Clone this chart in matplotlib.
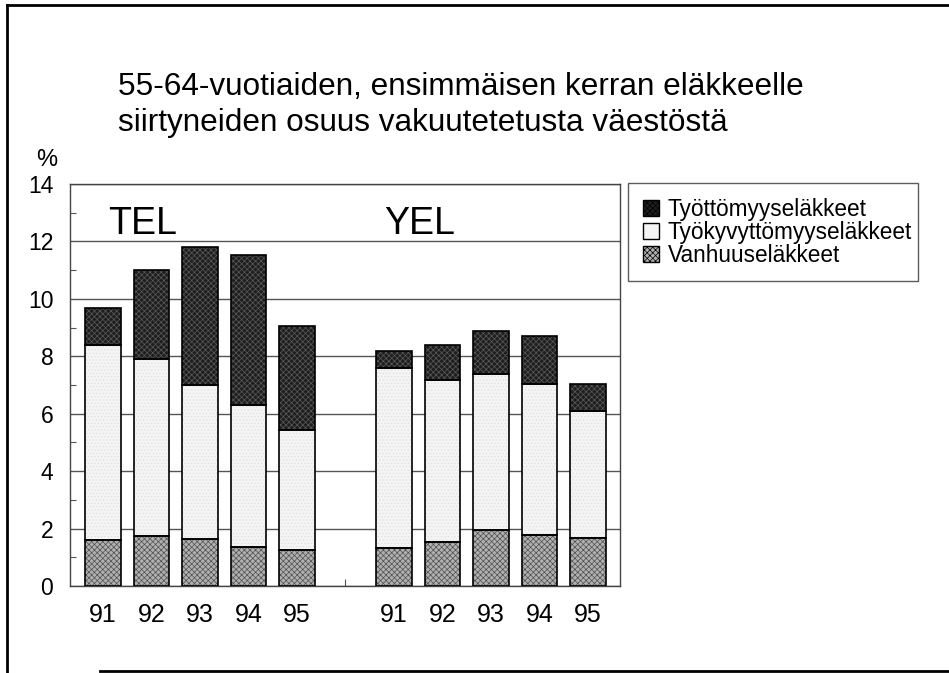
import matplotlib
matplotlib.use("Agg")
import matplotlib.pyplot as plt
from matplotlib.patches import Patch
from matplotlib.lines import Line2D

plt.rcParams['font.family'] = ['Liberation Sans', 'DejaVu Sans']
plt.rcParams['hatch.linewidth'] = 0.5

years = ["91", "92", "93", "94", "95"]
groups = ["TEL", "YEL"]
# values per bar: TEL 91-95 then YEL 91-95
vanhuus = [1.61, 1.73, 1.63, 1.35, 1.26, 1.34, 1.53, 1.94, 1.77, 1.66]
tyokyvyttomyys_top = [8.39, 7.92, 7.01, 6.31, 5.45, 7.59, 7.19, 7.40, 7.02, 6.11]
total = [9.69, 11.01, 11.80, 11.52, 9.05, 8.19, 8.40, 8.89, 8.71, 7.04]
tyokyvyttomyys = [t - v for t, v in zip(tyokyvyttomyys_top, vanhuus)]
tyottomyys = [tot - t for tot, t in zip(total, tyokyvyttomyys_top)]
labels = ["Työttömyyseläkkeet", "Työkyvyttömyyseläkkeet", "Vanhuuseläkkeet"]

positions = [0, 1, 2, 3, 4, 6, 7, 8, 9, 10]
width = 0.74

fig = plt.figure(figsize=(9.49, 6.73), dpi=100)
ax = fig.add_axes([70/949, 1-586/673, 550/949, 402/673])

styles = {
    "tyott": dict(face='#1e1e1e', hatch='xxxxxx', hc='#5a5a5a'),
    "tyokyv": dict(face='#f4f4f4', hatch='.....', hc='#e0e0e0'),
    "vanh": dict(face='#b0b0b0', hatch='xxxxxx', hc='#505050'),
}

def draw(vals, bottom, st):
    ax.bar(positions, vals, width, bottom=bottom, color=st['face'], hatch=st['hatch'],
           edgecolor=st['hc'], linewidth=0, zorder=3)
    ax.bar(positions, vals, width, bottom=bottom, facecolor='none',
           edgecolor='black', linewidth=1.2, zorder=4)

draw(vanhuus, 0, styles['vanh'])
draw(tyokyvyttomyys, vanhuus, styles['tyokyv'])
draw(tyottomyys, tyokyvyttomyys_top, styles['tyott'])

ax.set_xlim(-0.68, 10.66)
ax.set_ylim(0, 14)
ax.set_yticks(range(0, 15, 2))
ax.set_yticks(range(1, 14, 2), minor=True)
ax.yaxis.grid(True, which='major', color='#555555', linewidth=1.0, zorder=1)
ax.set_axisbelow(True)
ax.set_xticks(range(11))
ax.set_xticklabels(years + [""] + years)
ax.tick_params(axis='y', which='major', length=0, pad=12, labelsize=16.5)
ax.tick_params(axis='y', which='minor', direction='in', length=4, width=0.8, color='#555555')
ax.tick_params(axis='x', direction='in', length=5, width=0.8, color='#555555', pad=12, labelsize=18)
for s in ax.spines.values():
    s.set_color('#444444')
    s.set_linewidth(1.0)

ax.text(0.1, 12.6, groups[0], fontsize=27, va='center', ha='left')
ax.text(5.8, 12.6, groups[1], fontsize=27, va='center', ha='left')

fig.text(118/949, 1-105/673, "55-64-vuotiaiden, ensimmäisen kerran eläkkeelle\nsiirtyneiden osuus vakuutetetusta väestöstä",
         fontsize=22.7, va='center', ha='left', linespacing=1.25)
fig.text(36/949, 1-160/673, "%", fontsize=17, va='center', ha='left')

handles = [Patch(facecolor=styles['tyott']['face'], hatch=styles['tyott']['hatch'], edgecolor='black'),
           Patch(facecolor=styles['tyokyv']['face'], edgecolor='black'),
           Patch(facecolor=styles['vanh']['face'], hatch=styles['vanh']['hatch'], edgecolor='black')]
leg = fig.legend(handles, labels, loc='upper left',
                 bbox_to_anchor=(628/949, 1-279/673, 290/949, 96/673), mode='expand',
                 fontsize=16.3, frameon=True, fancybox=False, edgecolor='#333333',
                 handlelength=0.7, handleheight=0.7, handletextpad=0.4,
                 labelspacing=0.0, borderpad=0.65, borderaxespad=0)
leg.get_frame().set_linewidth(1.0)

# outer frame
fig.add_artist(Line2D([7/949, 7/949], [0, 1-5/673], transform=fig.transFigure, color='black', lw=2))
fig.add_artist(Line2D([7/949, 1], [1-5/673, 1-5/673], transform=fig.transFigure, color='black', lw=2))
fig.add_artist(Line2D([100/949, 1], [1-671/673, 1-671/673], transform=fig.transFigure, color='black', lw=2))

fig.savefig("out.png", dpi=100)
